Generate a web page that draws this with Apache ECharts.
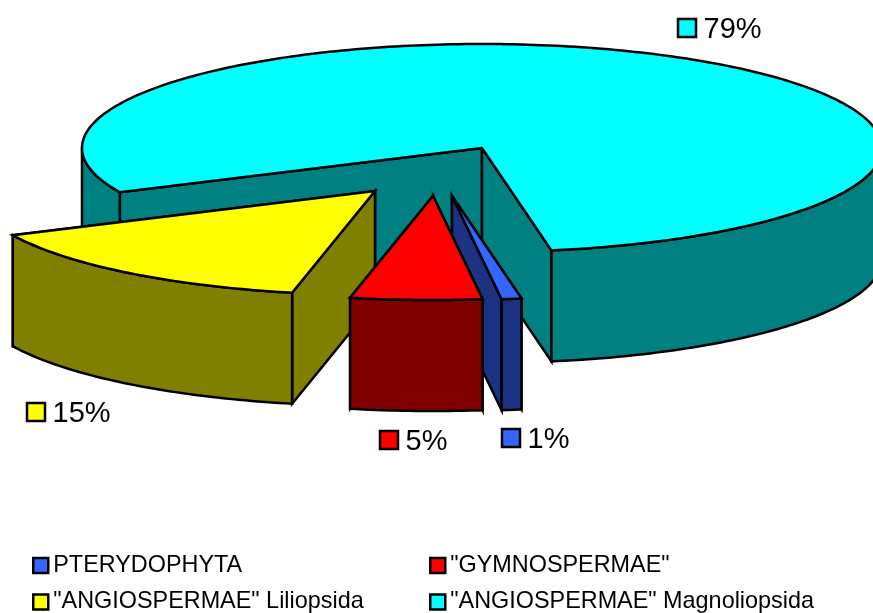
<!DOCTYPE html>
<html>
<head>
<meta charset="utf-8">
<style>html,body{margin:0;padding:0;background:#fff}#c{width:873px;height:613px}</style>
<script src="https://cdn.jsdelivr.net/npm/echarts@6/dist/echarts.min.js"></script>
</head>
<body>
<div id="c"></div>
<script>
const categories = ['PTERYDOPHYTA', '"GYMNOSPERMAE"', '"ANGIOSPERMAE" Liliopsida', '"ANGIOSPERMAE" Magnoliopsida'];
const values = [0.8, 5.3, 14.7, 79.2];
const topColors = ['#3366FF', '#FF0000', '#FFFF00', '#00FFFF'];
const sideColors = ['#1C3384', '#800000', '#808000', '#008080'];
const explode = [[-30, 48], [-49, 48], [-107, 43], [0, 0]];
const labelPos = [[502, 429], [380, 431], [27, 403], [678, 19]];
const drawOrder = [3, 0, 2, 1];

const CX = 482, CY = 148, RX = 400, RY = 104, DEPTH = 111, START_DEG = 80;
const total = values.reduce((a, b) => a + b, 0);
const toRad = Math.PI / 180;

function pt(t, ox, oy, down) {
  return [CX + ox + RX * Math.cos(t), CY + oy + RY * Math.sin(t) + (down ? DEPTH : 0)];
}
function poly(points, fill) {
  return { type: 'polygon', shape: { points }, style: { fill, stroke: '#000', lineWidth: 2.5, lineJoin: 'miter' } };
}
function arcSamples(a, b) {
  const n = Math.max(2, Math.ceil((b - a) / (toRad * 1)));
  const out = [];
  for (let i = 0; i <= n; i++) out.push(a + (b - a) * i / n);
  return out;
}

function makeRender(idx) {
  return function (params, api) {
    const value = api.value(0);
    let before = 0;
    for (let i = 0; i < idx; i++) before += values[i];
    const a = (START_DEG + before / total * 360) * toRad;
    const b = a + value / total * 360 * toRad;
    const [ox, oy] = explode[idx];
    const side = sideColors[idx], top = topColors[idx];
    const apex = [CX + ox, CY + oy];
    const apexD = [CX + ox, CY + oy + DEPTH];
    const children = [];

    // radial walls, the farther one first
    const wall = t => poly([apex, pt(t, ox, oy, false), pt(t, ox, oy, true), apexD], side);
    [a, b].sort((p, q) => Math.sin(p) - Math.sin(q)).forEach(t => children.push(wall(t)));

    // outer rim: only the stretches facing the viewer (sin > 0)
    for (let k = 0; k <= 1; k++) {
      const lo = Math.max(a, k * 2 * Math.PI);
      const hi = Math.min(b, k * 2 * Math.PI + Math.PI);
      if (hi > lo) {
        const ts = arcSamples(lo, hi);
        children.push(poly(
          ts.map(t => pt(t, ox, oy, false)).concat(ts.slice().reverse().map(t => pt(t, ox, oy, true))),
          side));
      }
    }

    // top face
    children.push(poly([apex].concat(arcSamples(a, b).map(t => pt(t, ox, oy, false))), top));

    // percentage key
    const [lx, ly] = labelPos[idx];
    children.push({ type: 'rect', shape: { x: lx, y: ly, width: 18, height: 18 },
      style: { fill: top, stroke: '#000', lineWidth: 2.5 } });
    children.push({ type: 'text', x: lx + 25.5, y: ly + 11,
      style: { text: Math.round(value / total * 100) + '%', fill: '#000',
        font: '29px "Liberation Sans", Arial, sans-serif', textAlign: 'left', textVerticalAlign: 'middle' } });

    return { type: 'group', children };
  };
}

const legendBase = {
  orient: 'vertical', itemWidth: 15, itemHeight: 15, itemGap: 13.5, icon: 'rect',
  selectedMode: false, top: 554, height: 120, padding: 0,
  itemStyle: { borderColor: '#000', borderWidth: 2.5 },
  textStyle: { fontFamily: '"Liberation Sans", Arial, sans-serif', fontSize: 23.4, color: '#000', padding: [0, 0, 0, 0] }
};

const chart = echarts.init(document.getElementById('c'), null, { renderer: 'canvas' });
chart.setOption({
  animation: false,
  backgroundColor: '#fff',
  legend: [
    Object.assign({}, legendBase, { left: 32, data: [categories[0], categories[2]] }),
    Object.assign({}, legendBase, { left: 429, data: [categories[1], categories[3]] })
  ],
  series: drawOrder.map(i => ({
    type: 'custom',
    name: categories[i],
    coordinateSystem: 'none',
    clip: false,
    silent: true,
    itemStyle: { color: topColors[i] },
    renderItem: makeRender(i),
    data: [[values[i]]]
  }))
});
</script>
</body>
</html>
